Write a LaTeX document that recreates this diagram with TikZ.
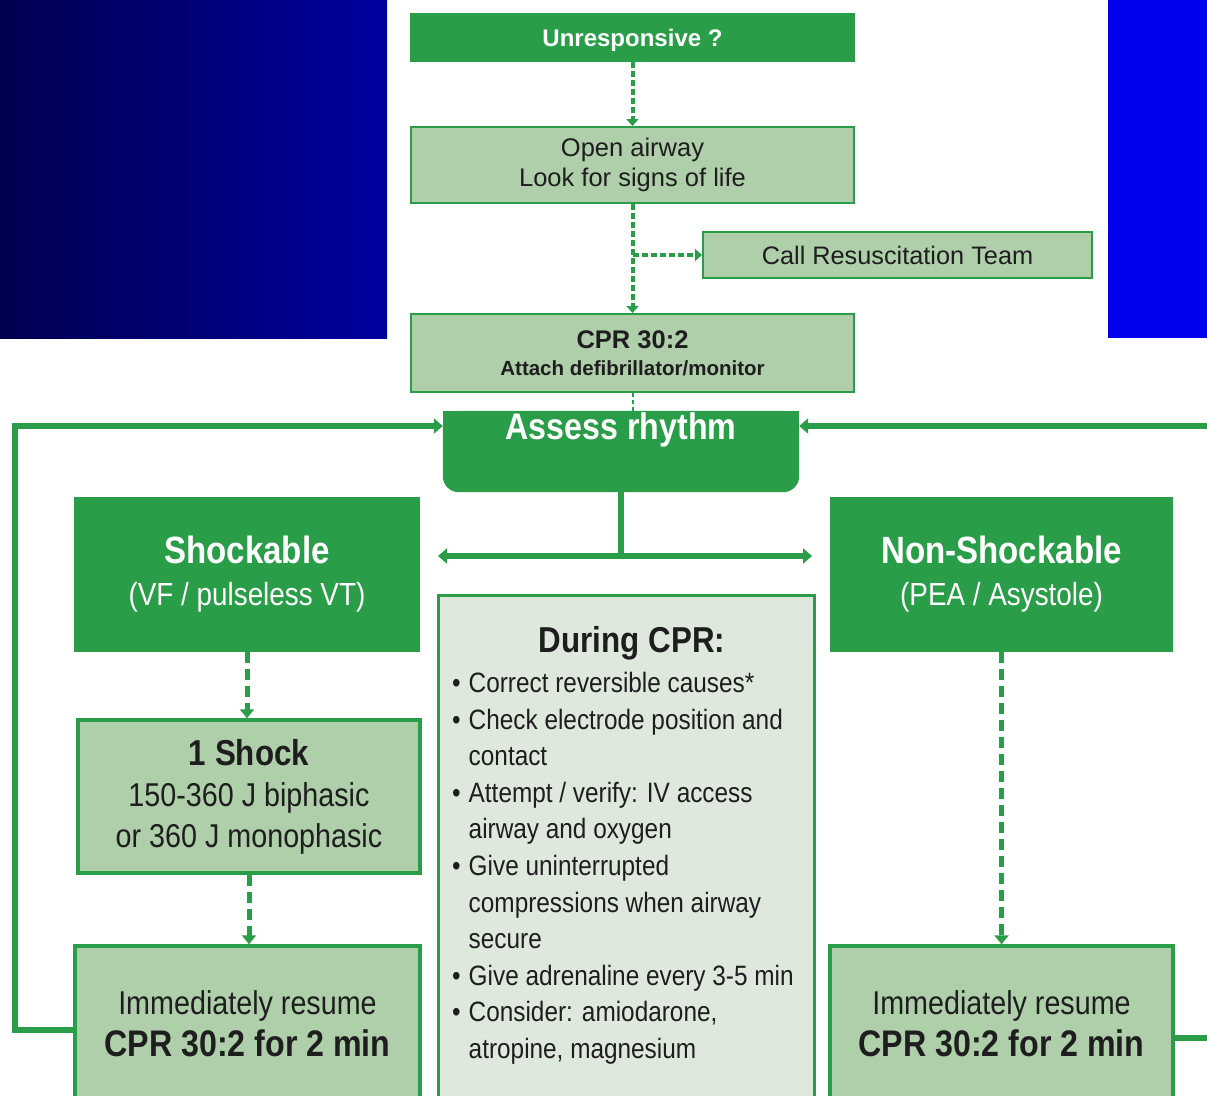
\documentclass[tikz,border=0pt]{standalone}
\usepackage{fontspec}
\setmainfont{Liberation Sans}
\newfontfamily\condfont[FakeStretch=0.87]{Liberation Sans}
\usetikzlibrary{arrows.meta}

\definecolor{alggreen}{RGB}{41,157,72}
\definecolor{algpale}{RGB}{174,207,169}
\definecolor{algmist}{RGB}{222,232,220}
\definecolor{algink}{RGB}{30,30,30}
\definecolor{navyleft}{RGB}{0,0,80}
\definecolor{navyright}{RGB}{0,0,160}
\definecolor{slideblue}{RGB}{0,0,238}

\newcommand{\setsz}[2]{\fontsize{#1pt}{#2pt}\selectfont}
\newcommand{\cprbullet}{\textbullet\hspace{8pt}}
\newcommand{\cprindent}{\hphantom{\textbullet}\hspace{8pt}}

\begin{document}
\begin{tikzpicture}[x = 1pt, y = -1pt,
  darkbox/.style = {fill = alggreen, text = white, align = center, inner sep = 0pt},
  palebox/.style = {fill = algpale, draw = alggreen, line width = 2pt, text = algink, align = center, inner sep = 0pt},
  palethick/.style = {palebox, line width = 3.5pt},
  mistbox/.style = {fill = algmist, draw = alggreen, line width = 3pt},
  topflow/.style = {draw = alggreen, line width = 4pt, dash pattern = on 6pt off 3pt, -{Triangle[width = 12pt, length = 7pt]}},
  lowflow/.style = {draw = alggreen, line width = 5pt, dash pattern = on 11pt off 6pt, -{Triangle[width = 14pt, length = 9pt]}},
  loopline/.style = {draw = alggreen, line width = 6pt},
  looptip/.style = {-{Triangle[width = 15pt, length = 9pt]}}]
\useasboundingbox (0, 0) rectangle (1207, 1095);
\clip (0, 0) rectangle (1207, 1095);
% slide backdrop
\shade [left color = navyleft, right color = navyright] (0, 0) rectangle (387, 338);
\fill [slideblue] (1108, 0) rectangle (1207, 338);
% first steps
\node [darkbox, minimum width = 445pt, minimum height = 49pt, text depth = 0pt, font = \bfseries\setsz{24}{28}] (unresp) at (632.5, 37.5) {Unresponsive ?};
\node [palebox, minimum width = 443pt, minimum height = 76pt, font = \setsz{25.5}{30}] (airway) at (632.5, 165) {Open airway\\Look for signs of life};
\node [palebox, minimum width = 389pt, minimum height = 46pt, font = \setsz{25.3}{30}] (callteam) at (897.5, 255) {Call Resuscitation Team};
\node [palebox, minimum width = 443pt, minimum height = 78pt, font = \bfseries\setsz{20.5}{27}] (cpr) at (632.5, 353) {{\setsz{25.5}{27}CPR 30:2}\\Attach defibrillator/monitor};
% rhythm check
\node [minimum width = 356pt, minimum height = 81pt, inner sep = 0pt] (assess) at (621, 451.5) {};
\fill [alggreen, rounded corners = 16pt] (assess.north west) rectangle (assess.south east);
\fill [alggreen] (assess.north west) rectangle (assess.east);
\node [text = white, font = \condfont\bfseries\setsz{37}{40}] (assesstext) at (621, 430) {Assess rhythm};
% the two branches
\node [darkbox, minimum width = 346pt, minimum height = 155pt, font = \condfont\setsz{32}{42}] (shock) at (247, 574.5) {{\bfseries\setsz{38}{42}Shockable}\\(VF / pulseless VT)};
\node [darkbox, minimum width = 343pt, minimum height = 155pt, font = \condfont\setsz{32}{42}] (nonshock) at (1001.5, 574.5) {{\bfseries\setsz{38}{42}Non-Shockable}\\(PEA / Asystole)};
\node [palethick, minimum width = 342pt, minimum height = 153pt, font = \condfont\setsz{33}{41}] (oneshock) at (249, 796.5) {{\bfseries\setsz{36}{41}1 Shock}\\150-360 J biphasic\\or 360 J monophasic};
\node [palethick, minimum width = 345pt, minimum height = 156pt, font = \condfont\setsz{33}{42}] (lresume) at (247.5, 1024) {Immediately resume\\{\bfseries\setsz{37}{42}CPR 30:2 for 2 min}};
\node [palethick, minimum width = 343pt, minimum height = 156pt, font = \condfont\setsz{33}{42}] (rresume) at (1001.5, 1024) {Immediately resume\\{\bfseries\setsz{37}{42}CPR 30:2 for 2 min}};
% during CPR
\node [mistbox, minimum width = 376pt, minimum height = 510pt] (during) at (626, 850) {};
\node [text = algink, font = \condfont\bfseries\setsz{36}{40}] (duringhead) at (632, 643) {During CPR:};
\node [anchor = north west, inner sep = 0pt, align = left, text = algink, font = \condfont\setsz{28}{36.6}] (duringlist) at (452, 672) {%
\cprbullet Correct reversible causes*\\
\cprbullet Check electrode position and\\
\cprindent contact\\
\cprbullet Attempt / verify: IV access\\
\cprindent airway and oxygen\\
\cprbullet Give uninterrupted\\
\cprindent compressions when airway\\
\cprindent secure\\
\cprbullet Give adrenaline every 3-5 min\\
\cprbullet Consider: amiodarone,\\
\cprindent atropine, magnesium};
% connectors
\draw [topflow] (unresp.south) -- (airway.north);
\draw [topflow] (airway.south) -- (cpr.north);
\draw [topflow] (airway.south |- callteam.west) -- (callteam.west);
\draw [alggreen, line width = 2pt, dash pattern = on 4pt off 3pt] (cpr.south) -- (cpr.south |- assess.north);
\coordinate (forkl) at (438, 556);
\coordinate (forkr) at (812, 556);
\draw [loopline] (assess.south) -- (assess.south |- forkl);
\draw [loopline, {Triangle[width = 15pt, length = 9pt]}-{Triangle[width = 15pt, length = 9pt]}] (forkl) -- (forkr);
\draw [lowflow] (shock.south) -- (shock.south |- oneshock.north);
\draw [lowflow] (oneshock.south) -- (oneshock.south |- lresume.north);
\draw [lowflow] (nonshock.south) -- (nonshock.south |- rresume.north);
% loops back to the rhythm check
\coordinate (lcorner) at (15, 1030);
\coordinate (ltop) at (15, 426);
\draw [loopline, looptip] (lresume.west |- lcorner) -- (lcorner) -- (ltop) -- (assess.west |- ltop);
\coordinate (rcorner) at (1240, 1038);
\coordinate (rtop) at (1240, 426);
\draw [loopline, looptip] (rresume.east |- rcorner) -- (rcorner) -- (rtop) -- (assess.east |- rtop);
\end{tikzpicture}
\end{document}
